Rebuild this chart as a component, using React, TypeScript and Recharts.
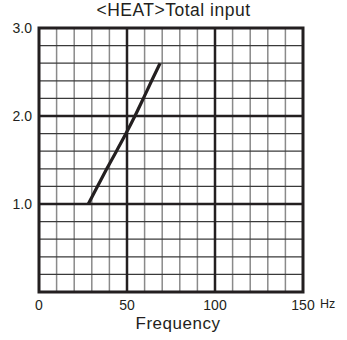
import React from 'react';
import {
  LineChart,
  Line,
  XAxis,
  YAxis,
  CartesianGrid,
  ReferenceLine,
  ReferenceArea
} from 'recharts';

// frequency (Hz) vs. total heating input
const freqHz = [28, 33.2, 38.5, 44, 49.4, 54.5, 59.3, 64, 68.8];
const totalInput = [1.0, 1.2, 1.4, 1.6, 1.8, 2.0, 2.2, 2.4, 2.6];

const xTicks = [0, 10, 20, 30, 40, 50, 60, 70, 80, 90, 100, 110, 120, 130, 140, 150];
const yTicks = [0, 0.2, 0.4, 0.6, 0.8, 1, 1.2, 1.4, 1.6, 1.8, 2, 2.2, 2.4, 2.6, 2.8, 3];
const majorX = [50, 100];
const majorY = [1, 2];

const data = freqHz.map((hz, i) => ({ hz, value: totalInput[i] }));

const font = '"Liberation Sans", Arial, sans-serif';
const ink = '#231f20';

function XTick({ x, y, payload }: any) {
  const v = payload.value;
  if (v % 50 !== 0) return <g />;
  return (
    <g>
      <text x={x} y={y + 10} textAnchor="middle" fontSize={14} fill={ink} fontFamily={font}>
        {v}
      </text>
      {v === 150 && (
        <text x={x + 17} y={y + 8} fontSize={12.5} fill={ink} fontFamily={font}>
          Hz
        </text>
      )}
    </g>
  );
}

function YTick({ x, y, payload }: any) {
  const v = payload.value;
  if (v === 0 || Math.abs(v - Math.round(v)) > 1e-6) return <g />;
  return (
    <text x={x + 1} y={y + 5} textAnchor="end" fontSize={14} fill={ink} fontFamily={font}>
      {v.toFixed(1)}
    </text>
  );
}

export default function App() {
  return (
    <div style={{ position: 'absolute', left: 0, top: 0, width: 347, height: 340, background: '#fff', fontFamily: font }}>
      <div style={{ position: 'absolute', left: 0, width: 347, top: 0, textAlign: 'center', fontSize: 17.5, letterSpacing: 0.5, color: ink }}>
        &lt;HEAT&gt;Total input
      </div>
      <div style={{ position: 'absolute', left: 0, width: 356, top: 314, textAlign: 'center', fontSize: 17, letterSpacing: 0.5, color: ink }}>
        Frequency
      </div>
      <LineChart width={347} height={340} data={data} margin={{ top: 28, right: 44, bottom: 0, left: 0 }}>
        <CartesianGrid vertical horizontal={false} stroke="#8a8a8a" strokeWidth={1.5} />
        <CartesianGrid vertical={false} horizontal stroke="#3a3a3a" strokeWidth={1.3} />
        <XAxis
          type="number"
          dataKey="hz"
          domain={[0, 150]}
          ticks={xTicks}
          interval={0}
          axisLine={false}
          tickLine={false}
          height={48}
          tick={<XTick />}
        />
        <YAxis
          type="number"
          domain={[0, 3]}
          ticks={yTicks}
          interval={0}
          axisLine={false}
          tickLine={false}
          width={39}
          tick={<YTick />}
        />
        {majorX.map((v) => (
          <ReferenceLine key={'x' + v} x={v} stroke={ink} strokeWidth={2.5} />
        ))}
        {majorY.map((v) => (
          <ReferenceLine key={'y' + v} y={v} stroke={ink} strokeWidth={2.5} />
        ))}
        <ReferenceArea x1={0} x2={150} y1={0} y2={3} fill="none" fillOpacity={0} stroke={ink} strokeWidth={3} />
        <Line
          type="monotone"
          dataKey="value"
          stroke={ink}
          strokeWidth={3.2}
          dot={false}
          isAnimationActive={false}
        />
      </LineChart>
    </div>
  );
}
